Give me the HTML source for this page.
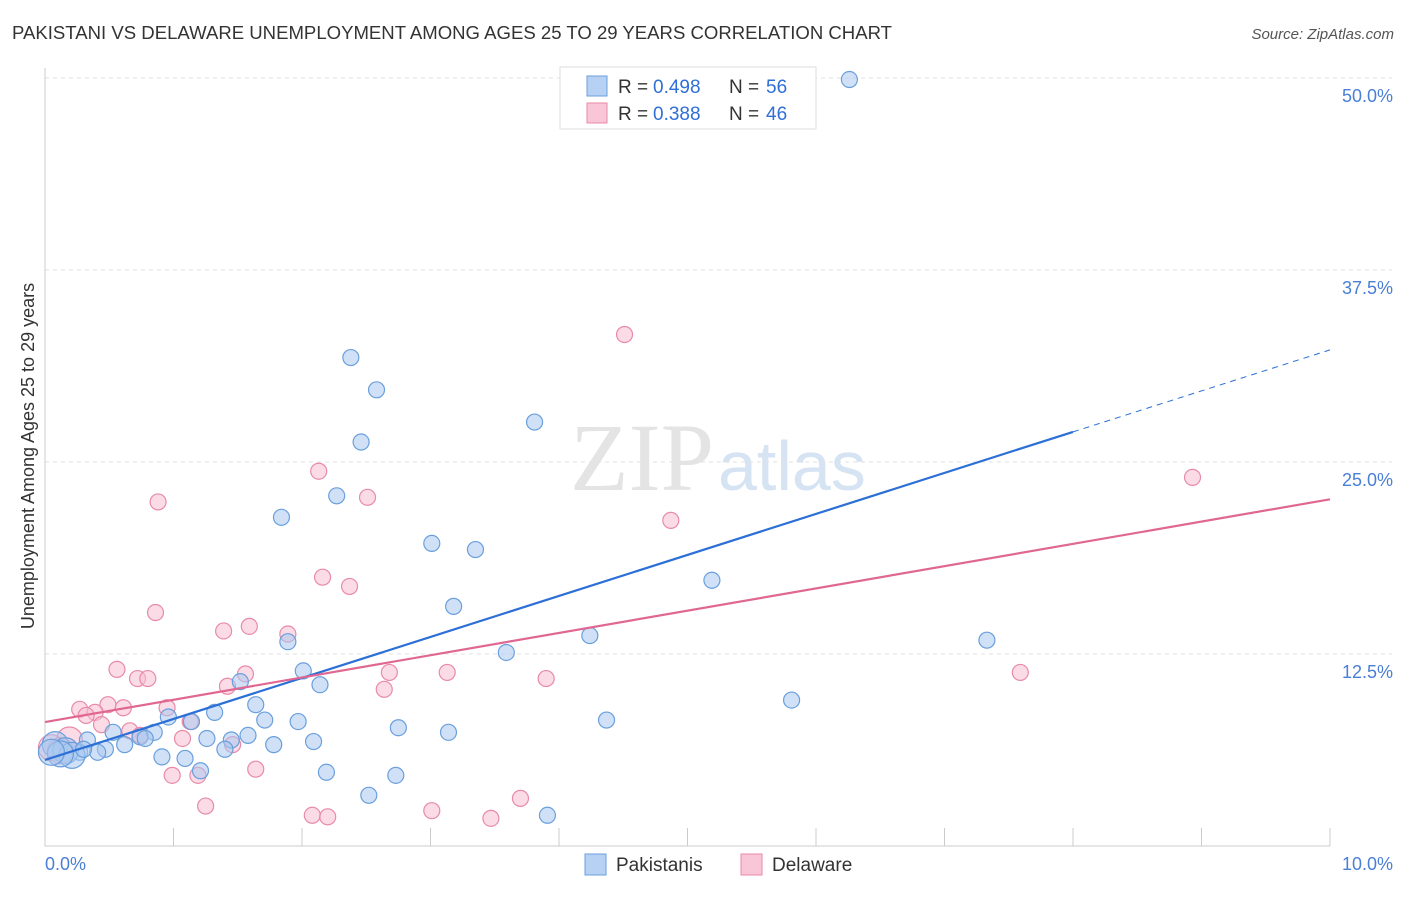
<!DOCTYPE html>
<html><head><meta charset="utf-8"><style>
body{margin:0;background:#fff;font-family:"Liberation Sans",sans-serif;}
</style></head><body>
<svg id="c" width="1406" height="892" xmlns="http://www.w3.org/2000/svg">
<text x="12" y="39" font-size="18" fill="#333" textLength="880" lengthAdjust="spacingAndGlyphs">PAKISTANI VS DELAWARE UNEMPLOYMENT AMONG AGES 25 TO 29 YEARS CORRELATION CHART</text>
<text x="1394" y="39" font-size="15" fill="#555" font-style="italic" text-anchor="end">Source: ZipAtlas.com</text>
<text x="714" y="490" font-size="96" fill="#e4e4e4" text-anchor="end" font-family="Liberation Serif">ZIP</text>
<text x="718" y="490" font-size="70" fill="#d6e3f3">atlas</text>
<g id="grid"></g><g id="axes"></g><g id="pts"></g><g id="lines"></g>
<text transform="translate(34,456) rotate(-90)" font-size="18" fill="#333" text-anchor="middle">Unemployment Among Ages 25 to 29 years</text>
<g>
<rect x="560" y="67" width="256" height="62" fill="#fff" stroke="#ddd"/>
<rect x="587" y="76" width="20" height="20" fill="#b6d1f3" stroke="#6a9fdc"/>
<text x="618" y="93" font-size="19" fill="#333">R =</text>
<text x="653" y="93" font-size="19" fill="#2f6fd6">0.498</text>
<text x="729" y="93" font-size="19" fill="#333">N =</text>
<text x="766" y="93" font-size="19" fill="#2f6fd6">56</text>
<rect x="587" y="103" width="20" height="20" fill="#f8c6d6" stroke="#e88aa8"/>
<text x="618" y="120" font-size="19" fill="#333">R =</text>
<text x="653" y="120" font-size="19" fill="#2f6fd6">0.388</text>
<text x="729" y="120" font-size="19" fill="#333">N =</text>
<text x="766" y="120" font-size="19" fill="#2f6fd6">46</text>
</g>
<g>
<rect x="585" y="854" width="21" height="21" fill="#b6d1f3" stroke="#6a9fdc"/>
<text x="616" y="871" font-size="19" fill="#333">Pakistanis</text>
<rect x="741" y="854" width="21" height="21" fill="#f8c6d6" stroke="#e88aa8"/>
<text x="772" y="871" font-size="19" fill="#333">Delaware</text>
</g>
</svg>
<script>
const yTicks=[12.5,25,37.5,50];
const yTickLabels=["12.5%","25.0%","37.5%","50.0%"];
const xTickLabels=["0.0%","10.0%"];
const blueX=[6.26,2.38,2.58,3.81,2.46,2.27,1.84,3.01,3.35,5.19,3.18,4.24,7.33,1.89,3.59,2.01,2.14,1.52,5.81,1.64,1.32,0.96,1.14,1.71,1.97,4.37,2.75,0.85,0.74,0.53,3.14,1.58,1.26,1.45,0.78,0.62,0.33,2.09,1.78,1.40,0.47,0.41,0.27,0.91,1.09,1.21,2.19,2.73,2.52,3.91,0.08,0.16,0.21,0.12,0.3,0.05];
const blueY=[49.9,31.8,29.7,27.6,26.3,22.8,21.4,19.7,19.3,17.3,15.6,13.7,13.4,13.3,12.6,11.4,10.5,10.7,9.5,9.2,8.7,8.4,8.1,8.2,8.1,8.2,7.7,7.4,7.1,7.4,7.4,7.2,7.0,6.9,7.0,6.6,6.9,6.8,6.6,6.3,6.3,6.1,6.1,5.8,5.7,4.9,4.8,4.6,3.3,2.0,6.6,6.2,5.9,6.0,6.3,6.1];
const pinkX=[4.51,8.93,2.13,2.51,0.88,4.87,2.16,2.37,0.86,1.39,1.59,1.89,0.56,1.56,2.68,3.13,7.59,0.72,0.80,3.90,1.42,2.64,0.49,0.61,0.27,0.95,0.39,0.32,0.44,1.13,0.66,1.07,0.19,1.46,0.05,1.64,0.99,1.19,1.25,2.08,2.20,3.01,3.47,3.70,0.12,0.74];
const pinkY=[33.3,24.0,24.4,22.7,22.4,21.2,17.5,16.9,15.2,14.0,14.3,13.8,11.5,11.2,11.3,11.3,11.3,10.9,10.9,10.9,10.4,10.2,9.2,9.0,8.9,9.0,8.7,8.5,7.9,8.1,7.5,7.0,6.9,6.6,6.4,5.0,4.6,4.6,2.6,2.0,1.9,2.3,1.8,3.1,6.2,7.2];
const blueTrend=[5.6,2.67];
const pinkTrend=[8.07,1.45];
const X=v=>45+v*128.5, Y=v=>846-v*15.36;
const NS="http://www.w3.org/2000/svg";
function mk(p,t,a){const e=document.createElementNS(NS,t);for(const k in a)e.setAttribute(k,a[k]);document.getElementById(p).appendChild(e);return e;}
yTicks.forEach((t,i)=>{
 const l=mk('grid','line',{x1:45,x2:1392,y1:Y(t),y2:Y(t),stroke:'#e2e2e2','stroke-dasharray':'4,4'});
 
 
 const tx=mk('grid','text',{x:1393,y:Y(t)+24,'font-size':18,fill:'#4a7fd6','text-anchor':'end'});
 tx.textContent=yTickLabels[i];
 
 
});
const ax=mk('axes','path',{d:'M45 68V846H1330',stroke:'#ccc',fill:'none'});


for(let i=1;i<=10;i++){const t=mk('axes','line',{x1:X(i),x2:X(i),y1:828,y2:846,stroke:'#ccc'});
 
 }
[[0,'start',45],[10,'end',1393]].forEach((d,i)=>{const t=mk('axes','text',{x:d[2],y:870,'font-size':18,fill:'#4a7fd6','text-anchor':d[1]});t.textContent=xTickLabels[i];
 
 });
function pts(xs,ys,fill,stroke,name){xs.forEach((x,i)=>{const big=x<0.25&&ys[i]>5.5&&ys[i]<7;
 const c=mk('pts','circle',{cx:X(x),cy:Y(ys[i]),r:big?13:8,fill:fill,'fill-opacity':0.55,stroke:stroke,'stroke-width':1.2});
 
 });}
pts(pinkX,pinkY,'#f8c0d2','#e88aa8','delaware-point');
pts(blueX,blueY,'#a9c9f1','#6a9fdc','pakistani-point');
const tb=v=>blueTrend[0]+blueTrend[1]*v, tp=v=>pinkTrend[0]+pinkTrend[1]*v;
let l=mk('lines','line',{x1:X(0),y1:Y(tb(0)),x2:X(8),y2:Y(tb(8)),stroke:'#2c6fd6','stroke-width':2.2});


l=mk('lines','line',{x1:X(8),y1:Y(tb(8)),x2:X(10),y2:Y(tb(10)),stroke:'#2c6fd6','stroke-width':1,'stroke-dasharray':'6,5'});


l=mk('lines','line',{x1:X(0),y1:Y(tp(0)),x2:X(10),y2:Y(tp(10)),stroke:'#e06792','stroke-width':2.2});


</script>
</body></html>
